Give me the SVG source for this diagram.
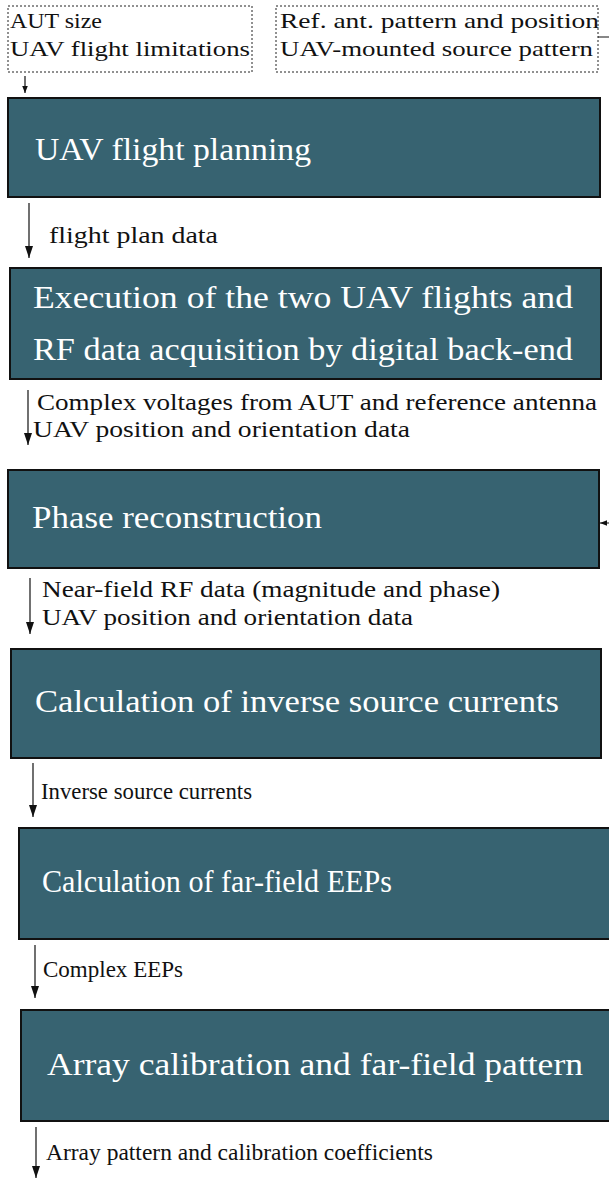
<svg xmlns="http://www.w3.org/2000/svg" width="609" height="1178" viewBox="0 0 609 1178">
<style>
.box{fill:#376371;stroke:#111;stroke-width:2}
.dot{fill:none;stroke:#222;stroke-width:1;stroke-dasharray:2 2}
.bt{font-family:"Liberation Serif","Times New Roman",Times,serif;font-size:31px;fill:#fff}
.lt{font-family:"Liberation Serif","Times New Roman",Times,serif;font-size:23px;fill:#111}
.dt{font-family:"Liberation Serif","Times New Roman",Times,serif;font-size:22px;fill:#111}
.ln{fill:none;stroke:#111;stroke-width:1.2}
</style>
<defs>
<marker id="ah" viewBox="0 0 12 10" refX="12" refY="5" markerWidth="12" markerHeight="10" markerUnits="userSpaceOnUse" orient="auto">
<path d="M0,1 L12,5 L0,9 z" fill="#111"/>
</marker>
<marker id="ahs" viewBox="0 0 10 10" refX="10" refY="5" markerWidth="7" markerHeight="7" markerUnits="userSpaceOnUse" orient="auto">
<path d="M0,1 L10,5 L0,9 z" fill="#111"/>
</marker>
</defs>
<g id="in1">
<rect class="dot" x="8" y="6" width="244" height="66"/>
<text class="dt" x="10" y="28" textLength="92" lengthAdjust="spacingAndGlyphs">AUT size</text>
<text class="dt" x="10" y="56" textLength="240" lengthAdjust="spacingAndGlyphs">UAV flight limitations</text>
</g>
<g id="in2">
<rect class="dot" x="276" y="6" width="322" height="66"/>
<text class="dt" x="280" y="28" textLength="319" lengthAdjust="spacingAndGlyphs">Ref. ant. pattern and position</text>
<text class="dt" x="280" y="56" textLength="313" lengthAdjust="spacingAndGlyphs">UAV-mounted source pattern</text>
</g>
<g id="n1">
<rect class="box" x="8" y="98" width="592" height="99"/>
<text class="bt" x="35" y="160" textLength="276" lengthAdjust="spacingAndGlyphs">UAV flight planning</text>
</g>
<g id="n2">
<rect class="box" x="10" y="268" width="591" height="111"/>
<text class="bt" x="33" y="308" textLength="540" lengthAdjust="spacingAndGlyphs">Execution of the two UAV flights and</text>
<text class="bt" x="33" y="360" textLength="540" lengthAdjust="spacingAndGlyphs">RF data acquisition by digital back-end</text>
</g>
<g id="n3">
<rect class="box" x="8" y="470" width="591" height="98"/>
<text class="bt" x="32" y="528" textLength="290" lengthAdjust="spacingAndGlyphs">Phase reconstruction</text>
</g>
<g id="n4">
<rect class="box" x="11" y="649" width="590" height="109"/>
<text class="bt" x="35" y="712" textLength="524" lengthAdjust="spacingAndGlyphs">Calculation of inverse source currents</text>
</g>
<g id="n5">
<rect class="box" x="19" y="828" width="600" height="111"/>
<text class="bt" x="42" y="892" textLength="350" lengthAdjust="spacingAndGlyphs">Calculation of far-field EEPs</text>
</g>
<g id="n6">
<rect class="box" x="21" y="1010" width="600" height="111"/>
<text class="bt" x="47" y="1075" textLength="536" lengthAdjust="spacingAndGlyphs">Array calibration and far-field pattern</text>
</g>
<g id="labels">
<text class="lt" x="49" y="243" textLength="169" lengthAdjust="spacingAndGlyphs">flight plan data</text>
<text class="lt" x="37" y="410" textLength="560" lengthAdjust="spacingAndGlyphs">Complex voltages from AUT and reference antenna</text>
<text class="lt" x="33" y="437" textLength="377" lengthAdjust="spacingAndGlyphs">UAV position and orientation data</text>
<text class="lt" x="42" y="597" textLength="458" lengthAdjust="spacingAndGlyphs">Near-field RF data (magnitude and phase)</text>
<text class="lt" x="42" y="625" textLength="371" lengthAdjust="spacingAndGlyphs">UAV position and orientation data</text>
<text class="lt" x="41" y="799" textLength="211" lengthAdjust="spacingAndGlyphs">Inverse source currents</text>
<text class="lt" x="43" y="977" textLength="140" lengthAdjust="spacingAndGlyphs">Complex EEPs</text>
<text class="lt" x="46" y="1160" textLength="387" lengthAdjust="spacingAndGlyphs">Array pattern and calibration coefficients</text>
</g>
<g id="connectors">
<line class="ln" x1="25" y1="76" x2="25" y2="93" marker-end="url(#ahs)"/>
<path class="ln" d="M598,37 H620 V523 H600" marker-end="url(#ahs)"/>
<line class="ln" x1="29" y1="203" x2="29" y2="258" marker-end="url(#ah)"/>
<line class="ln" x1="28" y1="390" x2="28" y2="445" marker-end="url(#ah)"/>
<line class="ln" x1="30" y1="578" x2="30" y2="634" marker-end="url(#ah)"/>
<line class="ln" x1="33" y1="763" x2="33" y2="817" marker-end="url(#ah)"/>
<line class="ln" x1="35" y1="945" x2="35" y2="998" marker-end="url(#ah)"/>
<line class="ln" x1="36" y1="1127" x2="36" y2="1178" marker-end="url(#ah)"/>
</g>
</svg>
